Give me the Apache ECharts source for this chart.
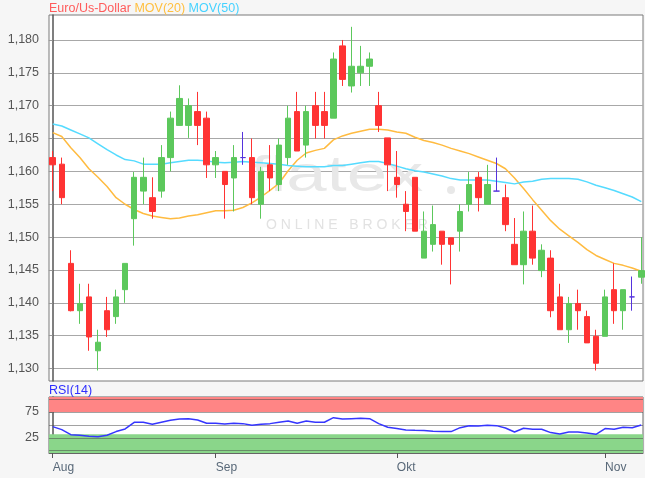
<!DOCTYPE html>
<html><head><meta charset="utf-8">
<script src="https://cdn.jsdelivr.net/npm/echarts@6/dist/echarts.min.js"></script>
<style>html,body{margin:0;padding:0;background:#f6f6f6}#c{width:645px;height:478px}</style>
</head><body><div id="c"></div>
<script>
// ---- data ----
const opens  = [1.1621,1.1611,1.1460,1.1388,1.1409,1.1327,1.1388,1.1379,1.1420,1.1528,1.1570,1.1560,1.1570,1.1621,1.1670,1.1670,1.1691,1.1681,1.1610,1.1600,1.1590,1.1621,1.1621,1.1550,1.1610,1.1580,1.1621,1.1691,1.1640,1.1700,1.1691,1.1681,1.1791,1.1730,1.1750,1.1760,1.1700,1.1651,1.1591,1.1550,1.1591,1.1468,1.1489,1.1509,1.1499,1.1509,1.1550,1.1591,1.1550,1.1570,1.1560,1.1489,1.1458,1.1509,1.1449,1.1468,1.1409,1.1359,1.1399,1.1379,1.1349,1.1349,1.1420,1.1388,1.1409,1.1439];
const closes = [1.1610,1.1560,1.1388,1.1399,1.1348,1.1340,1.1359,1.1409,1.1460,1.1591,1.1591,1.1539,1.1621,1.1681,1.1711,1.1700,1.1670,1.1610,1.1621,1.1580,1.1621,1.1621,1.1560,1.1600,1.1590,1.1640,1.1681,1.1631,1.1691,1.1670,1.1670,1.1771,1.1740,1.1760,1.1760,1.1771,1.1670,1.1610,1.1580,1.1539,1.1509,1.1509,1.1519,1.1489,1.1489,1.1539,1.1580,1.1560,1.1580,1.1570,1.1519,1.1458,1.1509,1.1468,1.1480,1.1388,1.1359,1.1399,1.1388,1.1339,1.1308,1.1409,1.1388,1.1420,1.1409,1.1449];
const lows   = [1.1570,1.1550,1.1387,1.1368,1.1327,1.1297,1.1348,1.1368,1.1400,1.1487,1.1550,1.1528,1.1560,1.1600,1.1670,1.1651,1.1640,1.1590,1.1590,1.1528,1.1539,1.1610,1.1550,1.1528,1.1570,1.1570,1.1610,1.1631,1.1621,1.1650,1.1650,1.1681,1.1730,1.1720,1.1730,1.1730,1.1660,1.1570,1.1560,1.1509,1.1509,1.1468,1.1478,1.1458,1.1428,1.1478,1.1539,1.1539,1.1550,1.1570,1.1509,1.1458,1.1428,1.1458,1.1439,1.1378,1.1359,1.1339,1.1359,1.1339,1.1297,1.1349,1.1368,1.1359,1.1388,1.1429];
const highs  = [1.1631,1.1621,1.1480,1.1429,1.1429,1.1359,1.1409,1.1420,1.1460,1.1599,1.1621,1.1591,1.1640,1.1691,1.1731,1.1711,1.1721,1.1691,1.1631,1.1600,1.1640,1.1660,1.1650,1.1607,1.1640,1.1650,1.1700,1.1721,1.1700,1.1721,1.1721,1.1781,1.1800,1.1820,1.1791,1.1781,1.1721,1.1651,1.1631,1.1570,1.1591,1.1539,1.1548,1.1509,1.1499,1.1550,1.1599,1.1599,1.1610,1.1621,1.1580,1.1529,1.1539,1.1548,1.1489,1.1480,1.1429,1.1409,1.1420,1.1388,1.1359,1.1420,1.1460,1.1420,1.1440,1.1500];
const ma20   = [1.1659,1.1653,1.1636,1.1621,1.1604,1.1591,1.1577,1.1560,1.1550,1.1542,1.1536,1.1532,1.1530,1.1528,1.1529,1.1532,1.1534,1.1537,1.1540,1.1540,1.1541,1.1545,1.1552,1.1561,1.1571,1.1582,1.1601,1.1617,1.1628,1.1632,1.1635,1.1648,1.1654,1.1658,1.1661,1.1664,1.1664,1.1663,1.1660,1.1658,1.1652,1.1647,1.1644,1.1640,1.1635,1.1631,1.1627,1.1622,1.1617,1.1612,1.1604,1.1590,1.1574,1.1557,1.1541,1.1525,1.1512,1.1502,1.1492,1.1481,1.1472,1.1466,1.1460,1.1457,1.1453,1.1448];
const ma50   = [1.1672,1.1669,1.1663,1.1657,1.1651,1.1642,1.1633,1.1625,1.1618,1.1616,1.1611,1.1611,1.1611,1.1613,1.1615,1.1617,1.1617,1.1616,1.1614,1.1613,1.1614,1.1615,1.1614,1.1613,1.1612,1.1611,1.1609,1.1608,1.1607,1.1607,1.1607,1.1609,1.1609,1.1611,1.1613,1.1615,1.1615,1.1612,1.1608,1.1604,1.1601,1.1599,1.1596,1.1593,1.1589,1.1587,1.1587,1.1587,1.1587,1.1585,1.1583,1.1581,1.1584,1.1585,1.1588,1.1589,1.1589,1.1589,1.1588,1.1584,1.1579,1.1575,1.1571,1.1566,1.1561,1.1554];
const rsi14  = [46.6,40.8,31.0,29.8,28.0,27.2,29.8,37.0,42.1,55.0,55.0,51.1,55.0,58.9,61.4,62.0,59.5,53.1,53.1,51.7,53.1,52.4,49.2,51.1,52.4,55.0,57.6,53.1,57.6,55.0,55.0,64.0,61.2,62.0,62.8,62.0,52.4,45.3,42.8,40.2,39.5,38.9,37.6,37.0,37.0,44.6,48.5,47.9,49.2,48.5,44.0,36.2,43.4,41.4,41.4,35.0,32.4,36.2,36.2,34.3,31.7,42.8,41.4,45.3,44.6,49.8];
const monthTickIdx = [0, 18, 38, 61];
const monthLabels  = ['Aug', 'Sep', 'Okt', 'Nov'];
const priceTicks   = [1.130, 1.135, 1.140, 1.145, 1.150, 1.155, 1.160, 1.165, 1.170, 1.175, 1.180];
const rsiTicks     = [25, 75];
const rsiGridLines = [0, 25, 50, 75, 100];
const rsiOverbought = [75, 104];
const rsiOversold   = [-4.5, 32];

// ---- chart ----
const X_MIN = -0.41, X_MAX = 65.19;
const candles = opens.map((o, i) => [i, o, closes[i], lows[i], highs[i]]);
const ma20Pts = ma20.map((v, i) => [i, v]);
const ma50Pts = ma50.map((v, i) => [i, v]);
const rsiPts  = rsi14.map((v, i) => [i, v]);
const FONT = "'Liberation Sans', Arial, sans-serif";

const chart = echarts.init(document.getElementById('c'), null, {renderer: 'canvas'});
chart.setOption({
  animation: false,
  backgroundColor: '#f6f6f6',
  textStyle: {fontFamily: FONT},
  title: [
    {left: 49, top: 2, padding: 0,
     text: '{a|Euro/Us-Dollar} {b|MOV(20)} {c|MOV(50)}',
     textStyle: {fontSize: 12.5, fontWeight: 'normal', fontFamily: FONT,
       rich: {a: {color: '#ff5b5b', fontSize: 12.5, fontFamily: FONT},
              b: {color: '#ffbf3f', fontSize: 12.5, fontFamily: FONT},
              c: {color: '#46d2ff', fontSize: 12.5, fontFamily: FONT}}}},
    {left: 49, top: 384, padding: 0, text: 'RSI(14)',
     textStyle: {fontSize: 12.5, fontWeight: 'normal', color: '#2f2fff', fontFamily: FONT}}
  ],
  graphic: [
    {type: 'text', z: 1, silent: true, left: 250, top: 152, scaleX: 1.45,
     style: {text: 'flatex', fontSize: 50, fontFamily: FONT, fill: '#e8e8e8'}},
    {type: 'circle', z: 1, silent: true, shape: {cx: 451, cy: 190, r: 4}, style: {fill: '#e8e8e8'}},
    {type: 'text', z: 1, silent: true, left: 266, top: 218,
     style: {text: 'O N L I N E   B R O K E R', fontSize: 14, fontFamily: FONT, fill: '#e2e2e2'}}
  ],
  grid: [
    {left: 49, top: 15, right: 2, height: 366, show: true, backgroundColor: '#ffffff',
     borderColor: '#7a7a7a', borderWidth: 1, outerBoundsMode: 'none', containLabel: false},
    {left: 49, top: 397, right: 2, height: 56, show: true, backgroundColor: '#ffffff',
     borderColor: '#666666', borderWidth: 1, outerBoundsMode: 'none', containLabel: false}
  ],
  xAxis: [
    {type: 'value', gridIndex: 0, min: X_MIN, max: X_MAX, show: false, splitLine: {show: false}},
    {type: 'value', gridIndex: 1, min: X_MIN, max: X_MAX,
     axisLine: {show: true, onZero: false, lineStyle: {color: '#666', width: 1}},
     axisTick: {show: true, customValues: monthTickIdx, length: 5, lineStyle: {color: '#555'}},
     axisLabel: {show: true, customValues: monthTickIdx, align: 'left', margin: 9,
       color: '#586878', fontSize: 12, fontFamily: FONT,
       formatter: v => monthLabels[monthTickIdx.indexOf(Math.round(v))] || ''},
     splitLine: {show: false}}
  ],
  yAxis: [
    {type: 'value', gridIndex: 0, min: 1.1281, max: 1.1838,
     axisLine: {show: true, lineStyle: {color: '#555', width: 1.5}},
     axisTick: {show: true, customValues: priceTicks, length: 4, lineStyle: {color: '#999'}},
     axisLabel: {show: true, customValues: priceTicks, margin: 10, color: '#555', fontSize: 12.5, fontFamily: FONT,
       formatter: v => v.toFixed(3).replace('.', ',')},
     splitLine: {show: true, lineStyle: {color: '#a8a8a8', width: 1.2}}},
    {type: 'value', gridIndex: 1, min: rsiOversold[0], max: rsiOverbought[1],
     axisLine: {show: true, lineStyle: {color: '#555', width: 1.5}},
     axisTick: {show: true, customValues: rsiTicks, length: 4, lineStyle: {color: '#999'}},
     axisLabel: {show: true, customValues: rsiTicks, margin: 10, color: '#555', fontSize: 12.5, fontFamily: FONT},
     splitLine: {show: false}}
  ],
  series: [
    {type: 'line', name: 'MOV(20)', xAxisIndex: 0, yAxisIndex: 0, data: ma20Pts, symbol: 'none', z: 2,
     lineStyle: {color: '#ffbb40', width: 1.5}},
    {type: 'line', name: 'MOV(50)', xAxisIndex: 0, yAxisIndex: 0, data: ma50Pts, symbol: 'none', z: 2,
     lineStyle: {color: '#55dbff', width: 1.5}},
    {type: 'candlestick', name: 'Euro/Us-Dollar', xAxisIndex: 0, yAxisIndex: 0, data: candles, z: 3,
     encode: {x: 0, y: [1, 2, 3, 4]}, barWidth: 6,
     itemStyle: {color: '#5cc85c', color0: '#ff3333', borderColor: '#5cc85c', borderColor0: '#ff3333',
       borderColorDoji: '#5533dd', borderWidth: 1}},
    {type: 'line', name: 'RSI(14)', xAxisIndex: 1, yAxisIndex: 1, data: rsiPts, symbol: 'none', z: 3,
     lineStyle: {color: '#3636ff', width: 1.5},
     markArea: {silent: true, z: 1,
       data: [
         [{yAxis: rsiOverbought[0], itemStyle: {color: '#ff8585'}}, {yAxis: rsiOverbought[1]}],
         [{yAxis: rsiOversold[0], itemStyle: {color: '#8ad68a'}}, {yAxis: rsiOversold[1]}]
       ]},
     markLine: {silent: true, z: 1.5, symbol: ['none', 'none'], label: {show: false},
       lineStyle: {color: 'rgba(70,70,70,0.5)', type: 'solid', width: 1},
       data: rsiGridLines.map(v => ({yAxis: v}))}}
  ]
});
</script>
</body></html>
